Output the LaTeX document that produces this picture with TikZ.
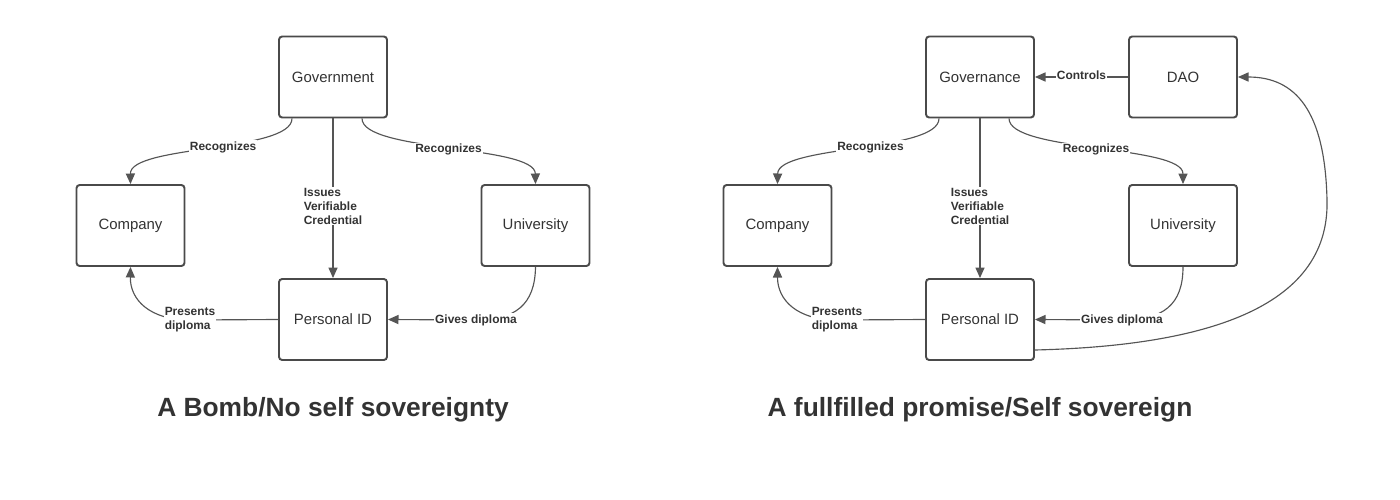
\documentclass[tikz,border=0pt]{standalone}
\usepackage{fontspec}
\setmainfont{Liberation Sans}
\usetikzlibrary{arrows.meta}
\definecolor{boxline}{HTML}{4A4A4A}
\definecolor{txt}{HTML}{333333}
\definecolor{conline}{HTML}{555555}
\tikzset{
  box/.style={draw=boxline, line width=1.1pt, rounded corners=1.8pt, minimum width=2.16cm, minimum height=1.62cm, inner sep=0pt, text=txt, font=\fontsize{8.5}{10}\selectfont},
  conn/.style={draw=conline, line width=0.65pt, -{Triangle[length=6pt,width=5.2pt]}},
  lbl/.style={fill=white, inner sep=0.6pt, text=txt, font=\fontsize{6.8}{7.9}\selectfont\bfseries, align=left},
  ttl/.style={text=txt, font=\fontsize{15}{18}\selectfont\bfseries}
}
\begin{document}
\begin{tikzpicture}[x=0.02cm,y=-0.02cm]
\useasboundingbox (0,0) rectangle (1400,500);
% ---------- left ----------
\node[box] (gov) at (333,77) {Government};
\node[box] (comp1) at (130.5,225.5) {Company};
\node[box] (uni1) at (535.5,225.5) {University};
\node[box] (pid1) at (333,319.5) {Personal ID};
\draw[conn] (gov.south -| 292,0) .. controls (292,152) and (130,145) .. (comp1.north)
  node[lbl, pos=0.45] {Recognizes};
\draw[conn] (gov.south -| 362,0) .. controls (362,152) and (535,145) .. (uni1.north)
  node[lbl, pos=0.5] {Recognizes};
\draw[conn] (gov.south) -- (pid1.north) node[lbl, pos=0.55] {Issues\\Verifiable\\Credential};
\coordinate (g1) at (476,320);
\draw[conn] (uni1.south) .. controls (535,305) and (515,320) .. (g1) node[lbl] {Gives diploma} -- (pid1.east);
\coordinate (p1) at (190,320);
\draw[conn] (pid1.west) -- (p1) node[lbl] {Presents\\diploma} .. controls (150,320) and (130,300) .. (comp1.south);
\node[ttl] (t1) at (333,410) {A Bomb/No self sovereignty};
% ---------- right ----------
\node[box] (gova) at (980,77) {Governance};
\node[box] (dao) at (1183,77) {DAO};
\node[box] (comp2) at (777.5,225.5) {Company};
\node[box] (uni2) at (1183,225.5) {University};
\node[box] (pid2) at (980,319.5) {Personal ID};
\draw[conn] (dao.west) -- (gova.east) node[lbl, pos=0.5, yshift=0.03cm] {Controls};
\draw[conn] (gova.south -| 939,0) .. controls (939,152) and (778,145) .. (comp2.north)
  node[lbl, pos=0.45] {Recognizes};
\draw[conn] (gova.south -| 1009,0) .. controls (1009,152) and (1183,145) .. (uni2.north)
  node[lbl, pos=0.5] {Recognizes};
\draw[conn] (gova.south) -- (pid2.north) node[lbl, pos=0.55] {Issues\\Verifiable\\Credential};
\coordinate (g2) at (1122,320);
\draw[conn] (uni2.south) .. controls (1183,305) and (1163,320) .. (g2) node[lbl] {Gives diploma} -- (pid2.east);
\coordinate (p2) at (837,320);
\draw[conn] (pid2.west) -- (p2) node[lbl] {Presents\\diploma} .. controls (797,320) and (777.5,300) .. (comp2.south);
\coordinate (r2) at (1327,200);
\draw[conn] (pid2.east |- 0,350) .. controls (1200,346) and (1330,310) .. (r2) .. controls (1325,110) and (1295,77) .. (dao.east);
\node[ttl] (t2) at (980,410) {A fullfilled promise/Self sovereign};
\end{tikzpicture}
\end{document}
